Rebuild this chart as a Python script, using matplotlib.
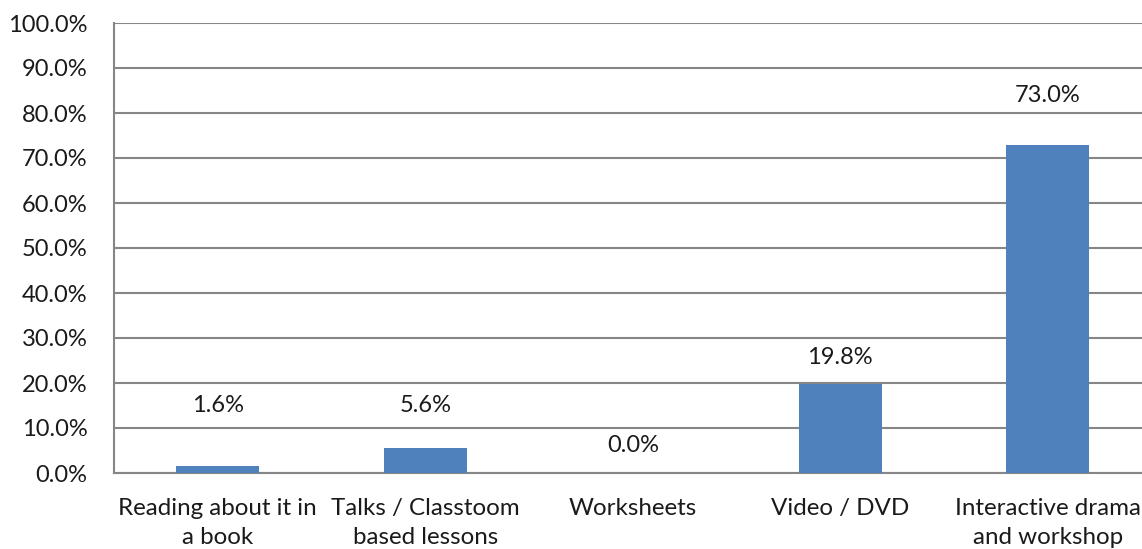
import matplotlib.pyplot as plt
from matplotlib.ticker import FuncFormatter

plt.rcParams["font.family"] = ["Lato", "DejaVu Sans"]

categories = ["Reading about it in\na book", "Talks / Classtoom\nbased lessons",
              "Worksheets", "Video / DVD", "Interactive drama\nand workshop"]
values = [1.6, 5.6, 0.0, 19.8, 73.0]

# label heights as they were moved in the original chart
label_y = [15.1, 15.1, 6.0, 25.6, 84.0]

fs = 17
fig = plt.figure(figsize=(11.42, 5.49), dpi=100)
ax = fig.add_axes([114/1142, 1-473/549, 1037.5/1142, 450/549])

x = range(len(values))
ax.bar(x, values, width=0.4, color="#4F81BD", zorder=3)

for i, v in enumerate(values):
    ax.text(i, label_y[i], f"{v:.1f}%", ha="center", va="center", fontsize=fs, color="#1a1a1a")

ax.set_xlim(-0.5, len(values)-0.5)
ax.set_ylim(0, 100)
ax.set_yticks(range(0, 101, 10))
ax.yaxis.set_major_formatter(FuncFormatter(lambda v, p: f"{v:.1f}%"))
ax.set_xticks(list(x))
ax.set_xticklabels(categories, fontsize=17.4, color="#1a1a1a", linespacing=1.5)
ax.tick_params(axis="y", length=0, pad=19, labelsize=fs, labelcolor="#1a1a1a")
ax.tick_params(axis="x", length=0, pad=18)

ax.grid(axis="y", color="#868686", linewidth=1.5, zorder=0)
for s in ["top", "right"]:
    ax.spines[s].set_visible(False)
ax.spines["left"].set_color("#868686")
ax.spines["left"].set_linewidth(1.5)
ax.spines["bottom"].set_color("#868686")
ax.spines["bottom"].set_linewidth(1.5)

fig.savefig("out.png", dpi=100)
